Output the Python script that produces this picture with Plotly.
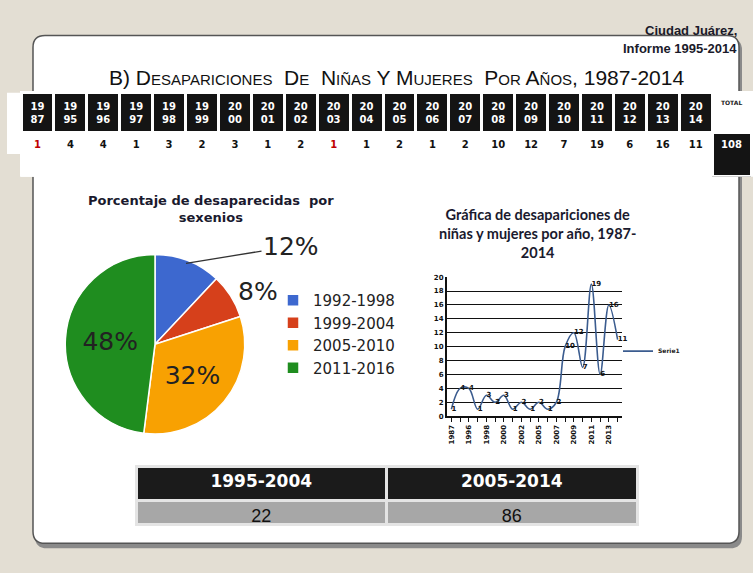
import plotly.graph_objects as go

W, H = 753, 573

# ---------------- data ----------------
table_years = ["1987", "1995", "1996", "1997", "1998", "1999", "2000", "2001", "2002", "2003",
               "2004", "2005", "2006", "2007", "2008", "2009", "2010", "2011", "2012", "2013", "2014"]
table_counts = [1, 4, 4, 1, 3, 2, 3, 1, 2, 1, 1, 2, 1, 2, 10, 12, 7, 19, 6, 16, 11]
highlight_years = ["1987", "2003"]
total_label = "TOTAL"
total_value = 108

pie_labels = ["1992-1998", "1999-2004", "2005-2010", "2011-2016"]
pie_values = [12, 8, 32, 48]
pie_colors = ["#3d68cf", "#d6401b", "#f8a102", "#1f8d1f"]

line_years = ["1987", "1995", "1996", "1997", "1998", "1999", "2000", "2001", "2002", "2003",
              "2005", "2006", "2007", "2008", "2009", "2010", "2011", "2012", "2013", "2014"]
line_values = [1, 4, 4, 1, 3, 2, 3, 1, 2, 1, 2, 1, 2, 10, 12, 7, 19, 6, 16, 11]
line_name = "Serie1"

period_labels = ["1995-2004", "2005-2014"]
period_totals = [22, 86]


def px(x):
    return x / W


def py(y):
    return 1 - y / H


def rrect(x0, y0, x1, y1, r):
    pts = [
        ("M", [(x0 + r, y0)]), ("L", [(x1 - r, y0)]), ("Q", [(x1, y0), (x1, y0 + r)]),
        ("L", [(x1, y1 - r)]), ("Q", [(x1, y1), (x1 - r, y1)]), ("L", [(x0 + r, y1)]),
        ("Q", [(x0, y1), (x0, y1 - r)]), ("L", [(x0, y0 + r)]), ("Q", [(x0, y0), (x0 + r, y0)]),
    ]
    s = ""
    for cmd, ps in pts:
        s += cmd + " " + " ".join(f"{px(a):.5f},{py(b):.5f}" for a, b in ps) + " "
    return s + "Z"


fig = go.Figure()

# ---------------- year table ----------------
ncol = len(table_years)
hdr_vals = [f"{y[:2]}<br>{y[2:]}" for y in table_years] + [total_label]
cell_vals = [[c] for c in table_counts] + [[total_value]]
fig.add_trace(go.Table(
    domain=dict(x=[px(21), px(751)], y=[py(176), py(90)]),
    columnwidth=[33] * ncol + [39],
    header=dict(
        values=hdr_vals,
        fill_color=["#141414"] * ncol + ["white"],
        line=dict(color="white", width=3),
        font=dict(family="DejaVu Sans", size=[10] * ncol + [6],
                  color=["white"] * ncol + ["#222"], weight="bold"),
        align="center", height=34,
    ),
    cells=dict(
        values=cell_vals,
        fill_color=["white"] * ncol + ["#141414"],
        line=dict(color="white", width=3),
        font=dict(family="DejaVu Sans", size=10, weight="bold",
                  color=["#c00000" if y in highlight_years else "#111" for y in table_years] + ["white"]),
        align="center", height=44,
    ),
))

# ---------------- bottom table ----------------
fig.add_trace(go.Table(
    domain=dict(x=[px(136), px(637)], y=[py(532), py(469)]),
    columnwidth=[1, 1],
    header=dict(
        values=period_labels,
        fill_color="#1b1b1b",
        line=dict(color="#e4e4e4", width=3),
        font=dict(family="DejaVu Sans", size=17, color="white", weight="bold"),
        align="center", height=34,
    ),
    cells=dict(
        values=[[v] for v in period_totals],
        fill_color="#a7a7a7",
        line=dict(color="#e4e4e4", width=3),
        font=dict(family="Liberation Sans Narrow, Liberation Sans", size=18, color="#111"),
        align="center", height=24,
    ),
))

# ---------------- pie ----------------
tot = sum(pie_values)
pcts = [round(100 * v / tot) for v in pie_values]
fig.add_trace(go.Pie(
    labels=pie_labels, values=pie_values, sort=False, direction="clockwise", rotation=0,
    domain=dict(x=[px(65), px(245)], y=[py(436), py(254)]),
    marker=dict(colors=pie_colors, line=dict(color="white", width=1.5)),
    texttemplate=["", "%{percent:.0%}", "%{percent:.0%}", "%{percent:.0%}"],
    textposition=["none", "outside", "inside", "inside"],
    insidetextorientation="horizontal",
    textfont=dict(family="DejaVu Sans", size=25, color="#222"),
    hoverinfo="label+percent",
    legend="legend",
))

# ---------------- line chart ----------------
xi = list(range(len(line_years)))
fig.add_trace(go.Scatter(
    x=xi, y=line_values, mode="lines+text", name=line_name,
    line=dict(color="#3b5c8f", width=1.6, shape="spline", smoothing=1.0),
    text=[str(v) for v in line_values], textposition="middle right",
    textfont=dict(family="DejaVu Sans", size=7, color="#111", weight="bold"),
    legend="legend2", cliponaxis=False,
))

fig.update_xaxes(
    domain=[px(447), px(622)], range=[-0.5, len(line_years) - 0.5],
    tickmode="array", tickvals=xi[::2], ticktext=line_years[::2], tickangle=-90,
    tickfont=dict(family="DejaVu Sans", size=7, color="#111", weight="bold"),
    showgrid=False, zeroline=False, showline=True, linecolor="#111", linewidth=2,
    ticks="outside", ticklen=4, tickcolor="#111", tickwidth=1.2,
    minor=dict(ticks="outside", dtick=1, tick0=0, ticklen=4, tickcolor="#111", showgrid=False),
)
fig.update_yaxes(
    domain=[py(418), py(277)], range=[0, 20], dtick=2,
    tickfont=dict(family="DejaVu Sans", size=7, color="#111", weight="bold"),
    showgrid=True, gridcolor="#111", gridwidth=1.3, zeroline=False,
    showline=True, linecolor="#111", linewidth=2,
)

# ---------------- shapes ----------------
shapes = [
    dict(type="path", path=rrect(35, 35, 742, 552, 12), xref="paper", yref="paper",
         fillcolor="#8a8a8a", line=dict(width=0), layer="below"),
    dict(type="path", path=rrect(33, 32, 739, 547, 12), xref="paper", yref="paper",
         fillcolor="white", line=dict(color="#555", width=1.5), layer="below"),
    dict(type="rect", x0=px(7), x1=px(751), y0=py(152), y1=py(90), xref="paper", yref="paper",
         fillcolor="white", line=dict(width=0), layer="below"),
]

# ---------------- annotations ----------------
P = dict(xref="paper", yref="paper")
annotations = [
    dict(text="Ciudad Juárez,", x=px(739), y=py(27), xanchor="right", yanchor="middle",
         showarrow=False, font=dict(family="Liberation Sans Narrow, Liberation Sans", size=13,
                                    color="#1a1a2a", weight="bold"), **P),
    dict(text="Informe 1995-2014", x=px(739), y=py(45), xanchor="right", yanchor="middle",
         showarrow=False, font=dict(family="Liberation Sans Narrow, Liberation Sans", size=13,
                                    color="#1a1a2a", weight="bold"), **P),
    dict(text="B) Desapariciones  De  Niñas Y Mujeres  Por Años, 1987-2014",
         x=px(396), y=py(75), xanchor="center", yanchor="middle", showarrow=False,
         font=dict(family="Liberation Sans Narrow, Liberation Sans", size=21, color="#111",
                   variant="small-caps"), **P),
    dict(text="Porcentaje de desaparecidas  por<br>sexenios", x=px(211), y=py(208),
         xanchor="center", yanchor="middle", showarrow=False,
         font=dict(family="DejaVu Sans", size=13, color="#1a1a2e", weight="bold"), **P),
    dict(text="Gráfica de desapariciones de<br>niñas y mujeres por año, 1987-<br>2014",
         x=px(537), y=py(233), xanchor="center", yanchor="middle", showarrow=False,
         font=dict(family="Lato", size=14.5, color="#1a1a2e", weight="bold"), **P),
    dict(text=f"{pcts[0]}%", x=px(186), y=py(263), ax=105, ay=-17, xanchor="center",
         yanchor="middle", showarrow=True, arrowhead=0, arrowwidth=1.3, arrowcolor="#333",
         standoff=0, font=dict(family="DejaVu Sans", size=25, color="#222"), **P),
]

fig.update_layout(
    width=W, height=H, autosize=False,
    margin=dict(l=0, r=0, t=0, b=0),
    paper_bgcolor="#e3ded3", plot_bgcolor="rgba(0,0,0,0)",
    shapes=shapes, annotations=annotations,
    legend=dict(x=px(273), y=py(284), xanchor="left", yanchor="top",
                font=dict(family="DejaVu Sans", size=15, color="#222"),
                bgcolor="rgba(0,0,0,0)", itemclick=False),
    legend2=dict(x=px(618), y=py(352), xanchor="left", yanchor="middle",
                 font=dict(family="DejaVu Sans", size=6, color="#222", weight="bold"),
                 bgcolor="rgba(0,0,0,0)", itemwidth=30),
    showlegend=True,
)

fig.write_html("out.html", config={"displayModeBar": False},
               post_script="document.body.style.margin='0';document.body.style.background='#e3ded3';")
